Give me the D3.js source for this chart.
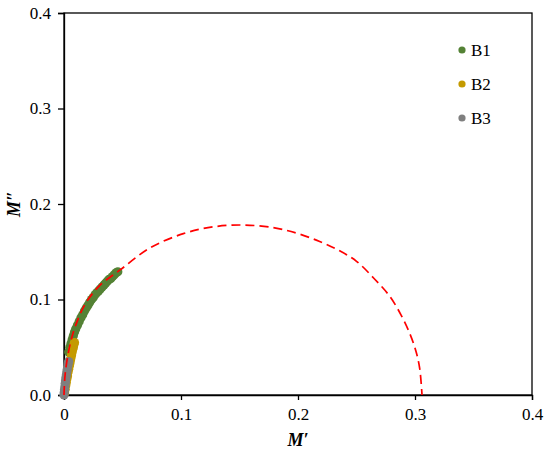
<!DOCTYPE html>
<html>
<head>
<meta charset="utf-8">
<script src="https://cdn.jsdelivr.net/npm/d3@7"></script>
<style>
   body { margin: 0; background: #fff; }
   svg text { font-family: "Liberation Serif", "Times New Roman", Times, serif; fill: #000; }
</style>
</head>
<body>
<div id="chart"></div>
<script>

// SERIES NAMES & COLORS
var seriesNames = ['B1', 'B2', 'B3'];
var seriesColors = ['#548235', '#C49A00', '#7F7F7F'];

// B1 VALUES (M', M'')
var b1Real = [0.004, 0.005, 0.006, 0.007, 0.008, 0.009, 0.010, 0.0115, 0.013, 0.0145, 0.016, 0.0175, 0.019, 0.0205, 0.022, 0.0235, 0.025, 0.0265, 0.028, 0.0295, 0.031, 0.0325, 0.034, 0.0355, 0.037, 0.0385, 0.040, 0.0415, 0.043, 0.0445, 0.046];
var b1Imag = [0.045, 0.050, 0.054, 0.058, 0.062, 0.066, 0.069, 0.073, 0.077, 0.081, 0.084, 0.088, 0.091, 0.094, 0.097, 0.100, 0.102, 0.105, 0.107, 0.109, 0.111, 0.113, 0.115, 0.117, 0.119, 0.121, 0.122, 0.124, 0.126, 0.128, 0.129];

// B2 VALUES
var b2Real = [0.0005, 0.001, 0.0015, 0.002, 0.0025, 0.003, 0.0035, 0.004, 0.0045, 0.005, 0.0055, 0.006, 0.0065, 0.007, 0.0075, 0.008, 0.0085, 0.009];
var b2Imag = [0.002, 0.006, 0.010, 0.013, 0.017, 0.020, 0.024, 0.027, 0.030, 0.033, 0.036, 0.039, 0.042, 0.045, 0.048, 0.050, 0.053, 0.055];

// B3 VALUES
var b3Real = [0.000, 0.0002, 0.0005, 0.0008, 0.001, 0.0013, 0.0016, 0.002, 0.0024, 0.0028, 0.0032, 0.0036, 0.004];
var b3Imag = [0.000, 0.003, 0.006, 0.009, 0.012, 0.015, 0.018, 0.021, 0.024, 0.027, 0.030, 0.033, 0.035];

// FITTED ARC (RED DASHED)
var fitReal = [0.000, 0.001, 0.005, 0.010, 0.018, 0.030, 0.048, 0.0735, 0.102, 0.127, 0.153, 0.180, 0.200, 0.218, 0.234, 0.250, 0.265, 0.278, 0.288, 0.296, 0.301, 0.304, 0.306];
var fitImag = [0.000, 0.022, 0.052, 0.073, 0.095, 0.114, 0.131, 0.154, 0.169, 0.176, 0.178, 0.175, 0.169, 0.161, 0.152, 0.140, 0.122, 0.104, 0.084, 0.063, 0.045, 0.028, 0.000];

// TICK VALUES
var xTicks = [0, 0.1, 0.2, 0.3, 0.4];
var yTicks = [0, 0.1, 0.2, 0.3, 0.4];

// SETTINGS
var settings = {
   width: 550,
   height: 455,
   margin: { left: 64, right: 18, top: 13, bottom: 60 },
   radius: 4.6,
   font: '"Liberation Serif", "Times New Roman", Times, serif'
};

var innerW = settings.width - settings.margin.left - settings.margin.right;
var innerH = settings.height - settings.margin.top - settings.margin.bottom;

// CANVAS
var svg = d3.select('#chart').append('svg')
   .attr('width', settings.width)
   .attr('height', settings.height);

var canvas = svg.append('g')
   .attr('transform', 'translate(' + settings.margin.left + ',' + settings.margin.top + ')');

// SCALES
var xScale = d3.scaleLinear().domain([0, 0.4]).range([0, innerW]);
var yScale = d3.scaleLinear().domain([0, 0.4]).range([innerH, 0]);

// AXES
var xAxis = d3.axisBottom(xScale)
   .tickValues(xTicks)
   .tickSize(5)
   .tickPadding(6)
   .tickFormat(d => d === 0 ? '0' : d3.format('.1f')(d));

var yAxis = d3.axisLeft(yScale)
   .tickValues(yTicks)
   .tickSize(6)
   .tickPadding(7)
   .tickFormat(d3.format('.1f'));

// FRAME (TOP & RIGHT)
canvas.append('rect')
   .attr('width', innerW)
   .attr('height', innerH)
   .attr('fill', 'none')
   .attr('stroke', '#000')
   .attr('stroke-width', 1.3);

canvas.append('g')
   .attr('transform', 'translate(0,' + innerH + ')')
   .call(xAxis)
   .call(g => g.attr('font-family', settings.font))
   .call(g => g.selectAll('text').attr('font-size', 17).attr('dy', '0.85em'));

canvas.append('g')
   .call(yAxis)
   .call(g => g.attr('font-family', settings.font))
   .call(g => g.selectAll('text').attr('font-size', 17));

canvas.selectAll('.domain, .tick line')
   .attr('stroke', '#000')
   .attr('stroke-width', 1.3);

// DATA POINTS
var series = [
   { name: 'B1', re: b1Real, im: b1Imag },
   { name: 'B2', re: b2Real, im: b2Imag },
   { name: 'B3', re: b3Real, im: b3Imag }
];

series.forEach((s, i) => {
   canvas.selectAll('circle.group-' + s.name)
      .data(s.re.map((v, k) => [v, s.im[k]]))
         .enter().append('circle')
            .attr('class', 'group-' + s.name)
            .attr('cx', d => xScale(d[0]))
            .attr('cy', d => yScale(d[1]))
            .attr('r', settings.radius)
            .attr('fill', seriesColors[i]);
});

// FITTED ARC
var arcLine = d3.line()
   .x(d => xScale(d[0]))
   .y(d => yScale(d[1]))
   .curve(d3.curveCatmullRom);

canvas.append('path')
   .attr('d', arcLine(fitReal.map((v, k) => [v, fitImag[k]])))
   .attr('fill', 'none')
   .attr('stroke', '#FF0000')
   .attr('stroke-width', 1.7)
   .attr('stroke-dasharray', '9,5');

// LEGEND
var legend = canvas.append('g')
   .attr('transform', 'translate(' + (innerW - 70) + ',37)');

seriesNames.forEach((name, i) => {
   var row = legend.append('g').attr('transform', 'translate(0,' + (i * 34) + ')');
   row.append('circle').attr('r', 3.6).attr('fill', seriesColors[i]);
   row.append('text')
      .attr('x', 9)
      .attr('dy', '0.35em')
      .attr('font-family', settings.font)
      .attr('font-size', 17)
      .text(name);
});

// AXIS TITLES
svg.append('text')
   .attr('x', settings.margin.left + innerW / 2)
   .attr('y', 446)
   .attr('text-anchor', 'middle')
   .attr('font-family', settings.font)
   .attr('font-size', 18)
   .attr('font-weight', 'bold')
   .attr('font-style', 'italic')
   .text("M\u2032");

svg.append('text')
   .attr('transform', 'translate(20,' + (settings.margin.top + innerH / 2) + ') rotate(-90)')
   .attr('text-anchor', 'middle')
   .attr('font-family', settings.font)
   .attr('font-size', 18)
   .attr('font-weight', 'bold')
   .attr('font-style', 'italic')
   .text("M\u2033");

</script>
</body>
</html>
